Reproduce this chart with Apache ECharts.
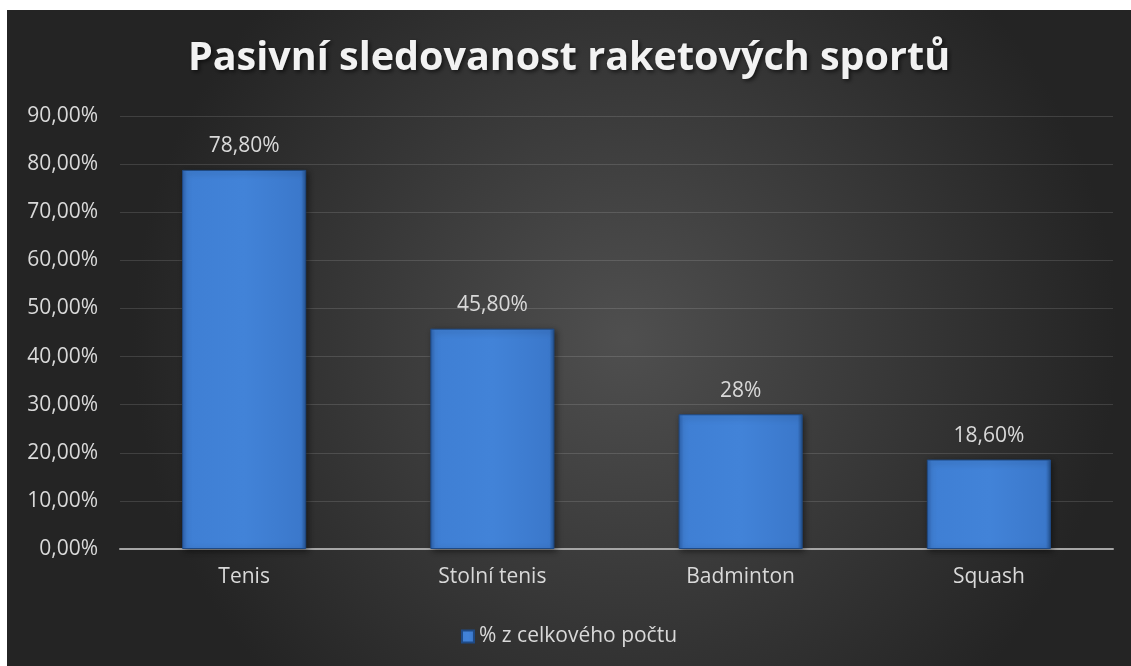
<!DOCTYPE html>
<html>
<head>
<meta charset="utf-8">
<script src="https://cdn.jsdelivr.net/npm/echarts@6/dist/echarts.min.js"></script>
<style>
html,body{margin:0;padding:0;background:#ffffff;}
#chart{position:absolute;left:7px;top:10px;width:1124px;height:656px;}
</style>
</head>
<body>
<div id="chart"></div>
<script>
const titleText = 'Pasivní sledovanost raketových sportů';
const categories = ['Tenis', 'Stolní tenis', 'Badminton', 'Squash'];
const values = [78.8, 45.8, 28, 18.6];
const valueLabels = ['78,80%', '45,80%', '28%', '18,60%'];
const seriesName = '% z celkového počtu';

const chart = echarts.init(document.getElementById('chart'));
const font = '"Open Sans", "Noto Sans", sans-serif';
const option = {
  backgroundColor: {
    type: 'radial', x: 0.55, y: 0.5, r: 0.75,
    colorStops: [{offset: 0, color: '#4f4f4f'}, {offset: 1, color: '#242424'}]
  },
  title: {
    text: titleText,
    left: 'center',
    top: 24,
    textStyle: {
      color: '#f2f2f2', fontFamily: font, fontWeight: 'bold', fontSize: 39.5,
      textShadowColor: 'rgba(0,0,0,0.6)', textShadowBlur: 4, textShadowOffsetX: 2, textShadowOffsetY: 2
    }
  },
  legend: {
    bottom: 14,
    left: 'center',
    itemWidth: 12, itemHeight: 12, itemGap: 6,
    icon: 'rect',
    textStyle: {color: '#d9d9d9', fontFamily: font, fontSize: 21},
    data: [seriesName]
  },
  grid: {left: 113, right: 18, top: 106, bottom: 117, containLabel: false},
  xAxis: {
    type: 'category',
    data: categories,
    axisLine: {lineStyle: {color: '#a6a6a6', width: 2}},
    axisTick: {show: false},
    axisLabel: {color: '#d9d9d9', fontFamily: font, fontSize: 21, margin: 18}
  },
  yAxis: {
    type: 'value',
    min: 0, max: 90, interval: 10,
    axisLine: {show: false},
    axisTick: {show: false},
    splitLine: {lineStyle: {color: 'rgba(255,255,255,0.13)', width: 1}},
    axisLabel: {
      color: '#d9d9d9', fontFamily: font, fontSize: 21, margin: 22,
      formatter: v => v.toFixed(2).replace('.', ',') + '%'
    }
  },
  series: [{
    name: seriesName,
    type: 'bar',
    data: values,
    barWidth: '50%',
    itemStyle: {
      color: {
        type: 'linear', x: 0, y: 0, x2: 1, y2: 0,
        colorStops: [
          {offset: 0, color: '#2d62ad'},
          {offset: 0.04, color: '#3f7fd4'},
          {offset: 0.5, color: '#4283d8'},
          {offset: 0.96, color: '#3b78cb'},
          {offset: 1, color: '#24528f'}
        ]
      },
      borderColor: '#1f4a85',
      borderWidth: 1,
      shadowColor: 'rgba(0,0,0,0.45)', shadowBlur: 6, shadowOffsetX: 2, shadowOffsetY: 2
    },
    label: {
      show: true, position: 'top', distance: 13,
      color: '#d9d9d9', fontFamily: font, fontSize: 21,
      formatter: p => valueLabels[p.dataIndex]
    }
  }]
};
chart.setOption(option);
</script>
</body>
</html>
